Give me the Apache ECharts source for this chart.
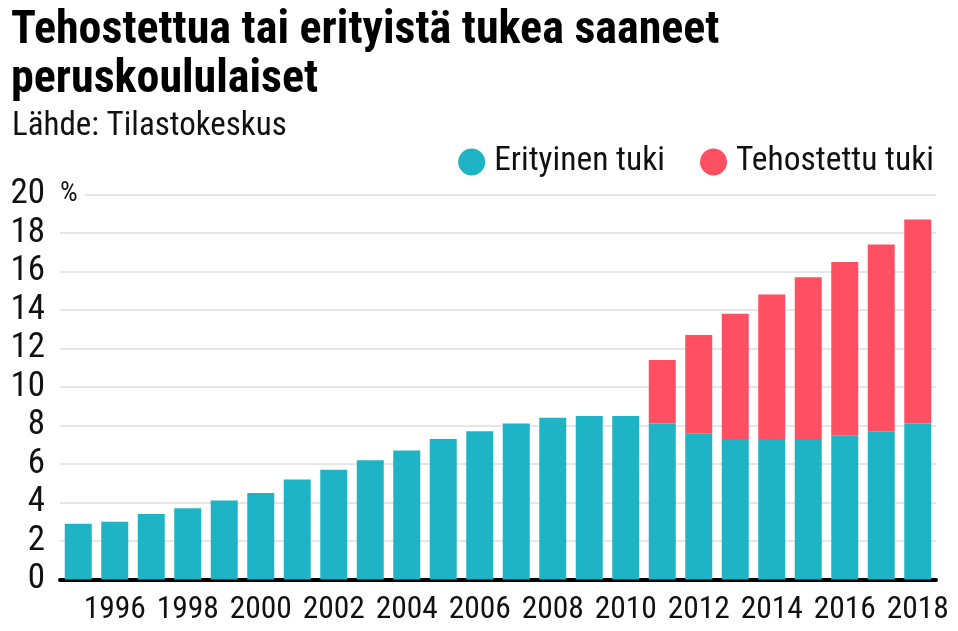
<!DOCTYPE html>
<html><head><meta charset="utf-8">
<script src="https://cdn.jsdelivr.net/npm/echarts@6/dist/echarts.min.js"></script>
<style>html,body{margin:0;padding:0;background:#fff}#c{width:958px;height:631px}</style>
</head><body><div id="c"></div>
<script>
const years = ['1995','1996','1997','1998','1999','2000','2001','2002','2003','2004','2005','2006','2007','2008','2009','2010','2011','2012','2013','2014','2015','2016','2017','2018'];
const erityinen = [2.9,3.0,3.4,3.7,4.1,4.5,5.2,5.7,6.2,6.7,7.3,7.7,8.1,8.4,8.5,8.5,8.1,7.6,7.3,7.3,7.3,7.5,7.7,8.1];
const tehostettu = [null,null,null,null,null,null,null,null,null,null,null,null,null,null,null,null,3.3,5.1,6.5,7.5,8.4,9.0,9.7,10.6];
const seriesNames = ['Erityinen tuki','Tehostettu tuki'];
const titleText = 'Tehostettua tai erityistä tukea saaneet\nperuskoululaiset';
const subtitleText = 'Lähde: Tilastokeskus';
const unitText = '%';

const FONT = '"Roboto Condensed", Roboto, sans-serif';
const chart = echarts.init(document.getElementById('c'), null, {renderer:'canvas'});
chart.setOption({
  animation:false,
  backgroundColor:'#fff',
  color:['#1fb4c5','#ff4f62'],
  title:[
    {text:titleText,left:6,top:2,textStyle:{fontFamily:FONT,fontWeight:'bold',fontSize:46,lineHeight:49,color:'#000'}},
    {text:subtitleText,left:7,top:105,textStyle:{fontFamily:FONT,fontWeight:'normal',fontSize:33,color:'#111'}}
  ],
  legend:{
    right:24,top:145,padding:0,itemGap:35,
    icon:'circle',itemWidth:27,itemHeight:27,
    textStyle:{fontFamily:FONT,fontSize:33.5,color:'#111',padding:[0,0,0,4]},
    data:seriesNames
  },
  grid:{left:60,right:22,top:194.5,bottom:51.5,containLabel:false},
  xAxis:{
    type:'category',data:years,
    axisLine:{lineStyle:{color:'#000',width:4}},
    axisTick:{show:false},
    axisLabel:{interval:function(i){return i%2===1;},fontFamily:FONT,fontSize:31.5,color:'#111',margin:15}
  },
  yAxis:{
    type:'value',min:0,max:20,interval:2,
    axisLine:{show:false},axisTick:{show:false},
    splitLine:{lineStyle:{color:'#e6e6e6',width:2}},
    axisLabel:{fontFamily:FONT,fontSize:35,color:'#111',margin:15}
  },
  series:[
    {name:seriesNames[0],type:'bar',stack:'t',data:erityinen,barWidth:27},
    {name:seriesNames[1],type:'bar',stack:'t',data:tehostettu,barWidth:27}
  ]
});
chart.setOption({
  graphic:[{type:'text',left:59,top:178,z:100,
    style:{text:unitText,fontSize:28,fontFamily:FONT,fill:'#111',backgroundColor:'#fff',padding:[2,7,2,1]}}]
});
</script></body></html>
